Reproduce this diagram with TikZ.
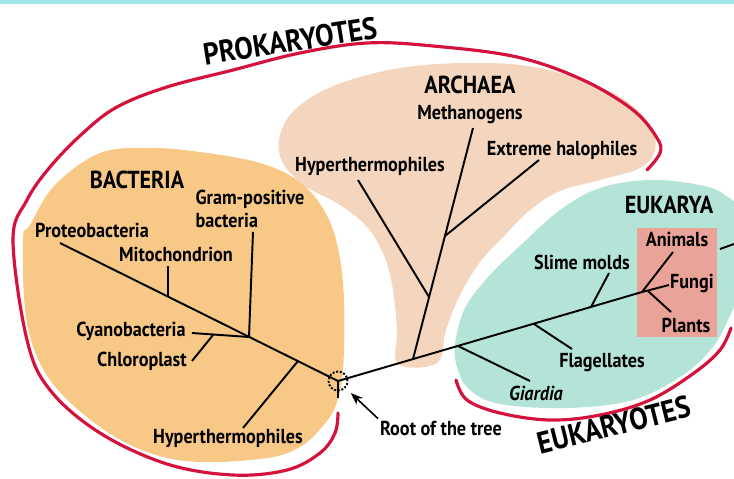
\documentclass[tikz,border=0pt]{standalone}
\usepackage{fontspec}
\setmainfont{PT Sans}
\newfontfamily\condfont{PT Sans}[FakeStretch=0.9]
\usetikzlibrary{arrows.meta}
\definecolor{barcyan}{RGB}{160,230,232}
\definecolor{bactfill}{RGB}{248,200,135}
\definecolor{archfill}{RGB}{244,213,190}
\definecolor{eukfill}{RGB}{180,227,215}
\definecolor{crownfill}{RGB}{234,163,152}
\definecolor{rimred}{RGB}{212,18,60}

\begin{document}
\begin{tikzpicture}[
  x=0.02cm, y=-0.02cm,
  lbl/.style={font=\condfont\bfseries\fontsize{11.5}{13}\selectfont, inner sep=1pt},
  head/.style={font=\condfont\bfseries\fontsize{14}{16}\selectfont, inner sep=1pt},
  title/.style={font=\condfont\bfseries\fontsize{17.5}{19}\selectfont, inner sep=1pt},
  branch/.style={line width=1.1pt},
  rim/.style={draw=rimred, line width=1.8pt, line cap=round},
  >=Stealth
]
  \useasboundingbox (0,0) rectangle (734,478);

  % Top strip
  \fill[barcyan] (0,0) rectangle (734,4);

  % Domain areas
  \fill[bactfill] plot[smooth cycle, tension=0.6] coordinates {
    (23,240) (27,323) (50,380) (100,427) (150,453) (200,462) (267,458)
    (300,447) (322,427) (336,405) (343,370) (344,300) (338,248) (325,212)
    (300,182) (260,163) (200,152) (150,148) (100,153) (55,185) (30,225)};
  \fill[archfill] plot[smooth cycle, tension=0.6] coordinates {
    (398,364) (397,330) (393,290) (385,258) (368,228) (340,205) (305,186)
    (283,163) (279,140) (290,115) (315,95) (350,80) (400,68) (460,63)
    (520,65) (570,76) (620,97) (650,125) (655,150) (640,168) (600,180)
    (560,191) (530,210) (505,235) (480,262) (460,295) (446,330) (437,363)};
  \fill[eukfill] plot[smooth cycle, tension=0.6] coordinates {
    (455,345) (458,370) (470,390) (500,404) (567,408) (633,400) (683,375)
    (712,348) (728,320) (742,280) (740,215) (725,195) (700,185) (650,180)
    (600,188) (560,210) (522,244) (490,275) (465,308)};
  \fill[crownfill] (637,228) rectangle (717,337);

  % Red rims
  \draw[rim] plot[smooth, tension=0.6] coordinates {
    (647,170) (660,153) (657,138) (633,110) (583,80) (517,57) (433,46)
    (367,43) (300,53) (233,70) (167,87) (117,107) (83,133) (50,167)
    (27,200) (13,240) (27,340) (50,390) (100,433) (167,464) (233,475)
    (287,470) (320,453) (335,433) (338,413)};
  \draw[rim] plot[smooth, tension=0.6] coordinates {
    (456,380) (467,400) (500,413) (550,420) (600,415) (650,400) (694,373)
    (720,350) (731,328)};

  % Root
  \node[draw, circle, densely dotted, line width=1.1pt, minimum size=0.38cm,
        inner sep=0pt] (root) at (338,381) {};
  \coordinate (rootstub) at (338,398);
  \draw[branch] (root.center) -- (rootstub);
  \node[lbl] (rootlbl) at (441,428) {Root of the tree};
  \draw[->, line width=0.9pt, shorten >=4pt] (rootlbl.north west) -- (root);

  % Bacteria
  \coordinate (proteo) at (60,243);
  \coordinate (mitoj) at (168,297);
  \coordinate (mitot) at (168,266);
  \coordinate (gramj) at (249,337);
  \coordinate (gramt) at (253,232);
  \coordinate (cyanot) at (192,333);
  \coordinate (chloj) at (213,335);
  \coordinate (chlot) at (192,361);
  \coordinate (bhypj) at (298,361);
  \coordinate (bhypt) at (243,428);
  \draw[branch] (proteo) -- (root.center);
  \draw[branch] (mitoj) -- (mitot);
  \draw[branch] (gramj) -- (gramt);
  \draw[branch] (gramj) -- (cyanot);
  \draw[branch] (chloj) -- (chlot);
  \draw[branch] (bhypj) -- (bhypt);

  \node[head] (bact) at (137,180) {BACTERIA};
  \node[lbl] (proteolbl) at (92,230) {Proteobacteria};
  \node[lbl] (mitolbl) at (176,254) {Mitochondrion};
  \node[lbl, align=left] (gramlbl) at (250,209) {Gram-positive\\bacteria};
  \node[lbl] (cyanolbl) at (131,331) {Cyanobacteria};
  \node[lbl] (chlolbl) at (142,361) {Chloroplast};
  \node[lbl] (bhyplbl) at (228,438) {Hyperthermophiles};

  % Archaea
  \coordinate (archj) at (413,359);
  \coordinate (ahypj) at (429,297);
  \coordinate (ahypt) at (358,180);
  \coordinate (halj) at (445,236);
  \coordinate (halt) at (539,160);
  \coordinate (metht) at (473,128);
  \draw[branch] (archj) -- (metht);
  \draw[branch] (ahypj) -- (ahypt);
  \draw[branch] (halj) -- (halt);

  \node[head] (arch) at (470,85) {ARCHAEA};
  \node[lbl] (methlbl) at (470,115) {Methanogens};
  \node[lbl] (hallbl) at (562,150) {Extreme halophiles};
  \node[lbl] (ahyplbl) at (370,166) {Hyperthermophiles};

  % Eukarya
  \coordinate (crown) at (642,292);
  \coordinate (giaj) at (458,346);
  \coordinate (giat) at (530,381);
  \coordinate (flagj) at (534,324);
  \coordinate (flagt) at (572,349);
  \coordinate (slimej) at (591,307);
  \coordinate (slimet) at (609,273);
  \coordinate (animt) at (673,252);
  \coordinate (fungt) at (669,285);
  \coordinate (plj) at (648,291);
  \coordinate (plt) at (671,312);
  \coordinate (edgea) at (720,249);
  \coordinate (edgeb) at (734,244);
  \draw[branch] (root.center) -- (crown);
  \draw[branch] (giaj) -- (giat);
  \draw[branch] (flagj) -- (flagt);
  \draw[branch] (slimej) -- (slimet);
  \draw[branch] (crown) -- (animt);
  \draw[branch] (crown) -- (fungt);
  \draw[branch] (plj) -- (plt);
  \draw[branch] (edgea) -- (edgeb);

  \node[head] (euk) at (669,205) {EUKARYA};
  \node[lbl] (animlbl) at (677,239) {Animals};
  \node[lbl] (funglbl) at (692,283) {Fungi};
  \node[lbl] (pllbl) at (686,325) {Plants};
  \node[lbl] (slimelbl) at (582,262) {Slime molds};
  \node[lbl] (flaglbl) at (602,363) {Flagellates};
  \node[lbl, font=\condfont\bfseries\itshape\fontsize{11.5}{13}\selectfont] (gialbl) at (536,393) {Giardia};

  % Titles
  \node[title, rotate=9] (prok) at (290,41) {PROKARYOTES};
  \node[title, rotate=14] (euks) at (614,425) {EUKARYOTES};
\end{tikzpicture}
\end{document}
